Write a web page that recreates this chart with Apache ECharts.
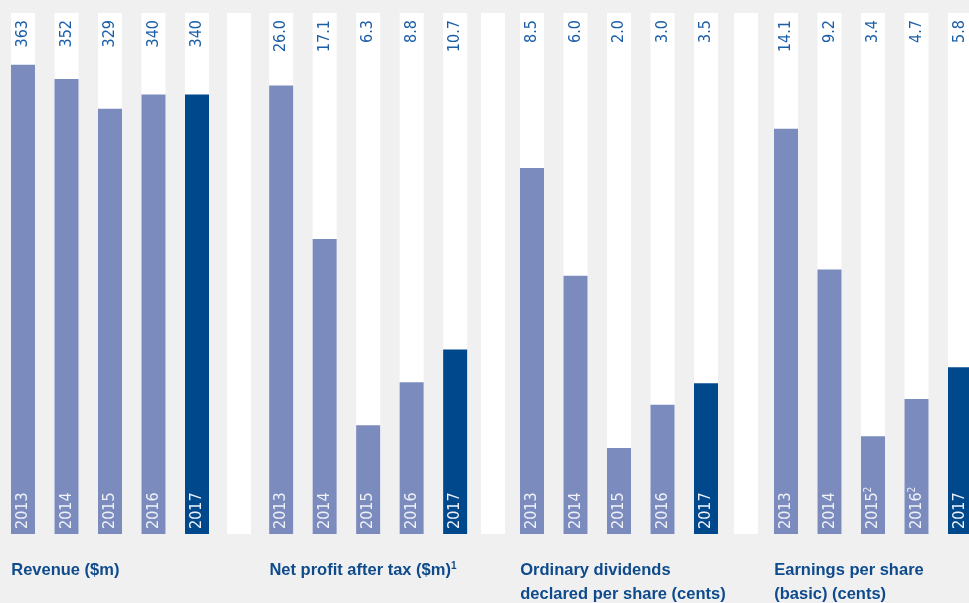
<!DOCTYPE html>
<html>
<head>
<meta charset="utf-8">
<script src="https://cdn.jsdelivr.net/npm/echarts@6/dist/echarts.min.js"></script>
<style>
  html, body { margin: 0; padding: 0; background: #f0f0f0; }
  #main { width: 969px; height: 603px; }
</style>
</head>
<body>
<div id="main"></div>
<script>
// data
const years = ['2013', '2014', '2015', '2016', '2017'];
const revenue = [363, 352, 329, 340, 340];
const netProfit = [26.0, 17.1, 6.3, 8.8, 10.7];
const dividends = [8.5, 6.0, 2.0, 3.0, 3.5];
const eps = [14.1, 9.2, 3.4, 4.7, 5.8];
const epsYearNotes = ['', '', '2', '2', ''];

const LIGHT = '#7b8bbd';
const DARK = '#00488c';
const TEXT_BLUE = '#1b5ea8';
const TITLE_BLUE = '#0e4a8c';
const LABEL_FONT = "'DejaVu Sans Condensed', 'DejaVu Sans', sans-serif";
const LABEL_SIZE = 16;
const BAND = 43.5; // px per year slot

// one panel per measure; the last one runs off the right edge of the page
const panels = [
  { values: revenue, digits: 0, notes: null, max: 403, left: 1.25, right: 750.25,
    title: 'Revenue ($m)' },
  { values: netProfit, digits: 1, notes: null, max: 30.2, left: 259.4, right: 493.35,
    title: 'Net profit after tax ($m){sup|1}' },
  { values: dividends, digits: 1, notes: null, max: 12.1, left: 510.25, right: 241.25,
    title: 'Ordinary dividends\ndeclared per share (cents)' },
  { values: eps, digits: 1, notes: epsYearNotes, max: 18.13, left: 764.25, right: 0,
    title: 'Earnings per share\n(basic) (cents)' }
];
const separatorLefts = [227, 481, 734];

const grid = [], xAxis = [], yAxis = [], series = [], title = [];

panels.forEach(function (p, i) {
  const slots = (969 - p.left - p.right) / BAND;
  grid.push({ left: p.left, right: p.right, top: 13, bottom: 69 });
  xAxis.push({ type: 'value', gridIndex: i, min: -0.5, max: -0.5 + slots, show: false });
  yAxis.push({ type: 'value', gridIndex: i, min: 0, max: p.max, show: false });

  // white column behind each bar, carries the value label at the top
  series.push({
    type: 'bar', xAxisIndex: i, yAxisIndex: i,
    data: years.map(function (y, k) { return [k, p.max]; }),
    barWidth: 24, barGap: '-100%', silent: true,
    itemStyle: { color: '#ffffff' },
    label: {
      show: true, position: 'insideTop', distance: 7,
      rotate: 90, align: 'right', verticalAlign: 'middle',
      fontFamily: LABEL_FONT, fontSize: LABEL_SIZE, color: TEXT_BLUE,
      formatter: function (q) { return p.values[q.dataIndex].toFixed(p.digits); }
    }
  });

  // the actual bars
  series.push({
    type: 'bar', xAxisIndex: i, yAxisIndex: i,
    data: p.values.map(function (v, k) {
      return { value: [k, v], itemStyle: { color: k === p.values.length - 1 ? DARK : LIGHT } };
    }),
    barWidth: 24, barGap: '-100%',
    label: {
      show: true, position: 'insideBottom', distance: 5,
      rotate: 90, align: 'left', verticalAlign: 'middle',
      fontFamily: LABEL_FONT, fontSize: LABEL_SIZE, color: '#eef1f8',
      formatter: function (q) {
        const n = p.notes ? p.notes[q.dataIndex] : '';
        return years[q.dataIndex] + (n ? '{sup|' + n + '}' : '');
      },
      rich: {
        sup: { fontFamily: LABEL_FONT, fontSize: 10, color: '#eef1f8', padding: [0, 0, 9, 0] }
      }
    }
  });

  title.push({
    text: p.title,
    left: p.left + 10, top: 558, padding: 0,
    textStyle: {
      fontFamily: "'Liberation Sans', sans-serif", fontSize: 16.5, fontWeight: 'bold',
      color: TITLE_BLUE, lineHeight: 24,
      rich: {
        sup: { fontFamily: "'Liberation Sans', sans-serif", fontSize: 10, fontWeight: 'bold',
               color: TITLE_BLUE, padding: [0, 0, 8, 0] }
      }
    }
  });
});

// white separators between panels
separatorLefts.forEach(function (x, j) {
  const gi = panels.length + j;
  grid.push({ left: x, width: 24, top: 13, bottom: 69 });
  xAxis.push({ type: 'category', gridIndex: gi, data: [''], show: false });
  yAxis.push({ type: 'value', gridIndex: gi, min: 0, max: 1, show: false });
  series.push({
    type: 'bar', xAxisIndex: gi, yAxisIndex: gi, data: [1],
    barWidth: 24, silent: true, itemStyle: { color: '#ffffff' }
  });
});

const chart = echarts.init(document.getElementById('main'), null, { renderer: 'canvas' });
chart.setOption({
  backgroundColor: '#f0f0f0',
  animation: false,
  title: title,
  grid: grid,
  xAxis: xAxis,
  yAxis: yAxis,
  series: series
});
</script>
</body>
</html>
